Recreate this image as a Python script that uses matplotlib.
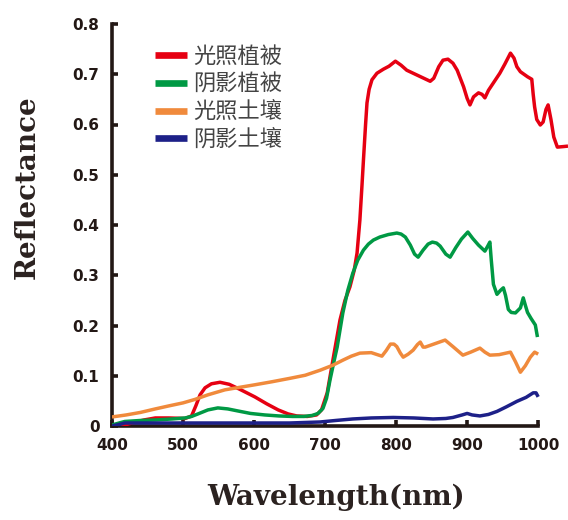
import matplotlib
matplotlib.use("Agg")
import matplotlib.pyplot as plt

# spectra (wavelength nm, reflectance)
lit_veg_wl = [413, 428, 445, 461, 480, 503, 512, 518, 524, 531, 540, 552, 565, 580, 601, 618, 634, 648,
              660, 675, 688, 695, 703, 711, 721, 728, 735, 741, 745, 749, 752, 754, 757, 759, 762, 766,
              773, 782, 790, 799, 807, 815, 830, 842, 848, 853, 860, 866, 873, 880, 886, 895, 900, 904,
              909, 916, 921, 925, 930, 938, 946, 953, 961, 966, 970, 975, 985, 991, 993, 995, 998, 1003,
              1007, 1011, 1014, 1018, 1022, 1027, 1035, 1042]
lit_veg = [0.0, 0.006, 0.012, 0.016, 0.016, 0.015, 0.02, 0.04, 0.062, 0.076, 0.084, 0.087, 0.083, 0.073,
           0.058, 0.044, 0.032, 0.024, 0.02, 0.019, 0.022, 0.032, 0.066, 0.131, 0.211, 0.25, 0.277, 0.31,
           0.344, 0.41, 0.48, 0.529, 0.6, 0.643, 0.67, 0.689, 0.702, 0.71, 0.716, 0.726, 0.718, 0.708,
           0.698, 0.69, 0.686, 0.692, 0.715, 0.728, 0.73, 0.722, 0.708, 0.675, 0.652, 0.639, 0.655, 0.663,
           0.66, 0.653, 0.668, 0.685, 0.702, 0.72, 0.742, 0.732, 0.715, 0.705, 0.695, 0.69, 0.66, 0.635,
           0.61, 0.599, 0.605, 0.63, 0.639, 0.61, 0.575, 0.555, 0.556, 0.557]

shade_veg_wl = [400, 410, 418, 440, 461, 485, 503, 512, 521, 535, 549, 563, 577, 595, 615, 635, 654, 670,
                682, 690, 697, 702, 707, 712, 717, 725, 732, 739, 746, 754, 761, 768, 777, 789, 801, 807,
                813, 820, 826, 831, 838, 845, 851, 857, 862, 870, 876, 884, 892, 901, 908, 916, 925, 929,
                932, 934, 937, 942, 947, 951, 954, 958, 962, 968, 975, 979, 982, 985, 990, 996, 999]
shade_veg = [0.002, 0.006, 0.009, 0.011, 0.012, 0.014, 0.016, 0.019, 0.024, 0.032, 0.036, 0.034, 0.03,
             0.025, 0.022, 0.02, 0.019, 0.019, 0.021, 0.025, 0.035, 0.055, 0.092, 0.125, 0.157, 0.225,
             0.27, 0.304, 0.33, 0.35, 0.362, 0.37, 0.376, 0.381, 0.384, 0.382, 0.376, 0.36, 0.342, 0.336,
             0.35, 0.362, 0.366, 0.364, 0.358, 0.342, 0.336, 0.355, 0.372, 0.386, 0.373, 0.36, 0.348,
             0.358, 0.366, 0.33, 0.282, 0.262, 0.27, 0.275, 0.26, 0.232, 0.226, 0.225, 0.235, 0.255,
             0.24, 0.226, 0.214, 0.201, 0.177]

lit_soil_wl = [400, 420, 440, 461, 480, 500, 517, 535, 559, 580, 601, 625, 651, 672, 693, 711, 725, 737,
               749, 765, 780, 786, 792, 797, 801, 806, 810, 817, 824, 830, 834, 838, 841, 855, 869, 880,
               894, 905, 918, 925, 932, 945, 961, 968, 975, 982, 989, 995, 1000]
lit_soil = [0.018, 0.022, 0.027, 0.034, 0.04, 0.046, 0.053, 0.062, 0.072, 0.077, 0.082, 0.088, 0.095,
            0.101, 0.111, 0.121, 0.131, 0.139, 0.145, 0.146, 0.139, 0.15, 0.163, 0.163, 0.158, 0.145,
            0.137, 0.143, 0.151, 0.162, 0.167, 0.157, 0.157, 0.164, 0.171, 0.158, 0.141, 0.147, 0.155,
            0.147, 0.141, 0.142, 0.147, 0.128, 0.107, 0.12, 0.137, 0.147, 0.143]

shade_soil_wl = [400, 410, 418, 450, 500, 550, 600, 650, 693, 715, 739, 765, 796, 825, 852, 870, 880,
                 893, 900, 907, 918, 930, 942, 955, 970, 983, 993, 997, 1000]
shade_soil = [0.0, 0.003, 0.006, 0.006, 0.006, 0.006, 0.006, 0.006, 0.008, 0.011, 0.014, 0.016, 0.017,
              0.016, 0.014, 0.015, 0.017, 0.022, 0.025, 0.022, 0.02, 0.023, 0.029, 0.038, 0.049, 0.057,
              0.066, 0.066, 0.058]

labels = ["光照植被", "阴影植被", "光照土壤", "阴影土壤"]
colors = ["#e60012", "#009944", "#f08a3c", "#1d2088"]
xticks = [400, 500, 600, 700, 800, 900, 1000]
yticks = [0, 0.1, 0.2, 0.3, 0.4, 0.5, 0.6, 0.7, 0.8]

W, H = 568, 520
fig = plt.figure(figsize=(W / 100, H / 100), dpi=100)
ax = fig.add_axes([112 / W, 94 / H, 456 / W, 402 / H])

series = [(lit_veg_wl, lit_veg), (shade_veg_wl, shade_veg),
          (lit_soil_wl, lit_soil), (shade_soil_wl, shade_soil)]
for (xs, ys), c, lab in zip(series, colors, labels):
    ax.plot(xs, ys, color=c, lw=2.5, label=lab, zorder=3,
            solid_joinstyle="round", solid_capstyle="butt")

ax.set_xlim(400, 1042)
ax.set_ylim(0, 0.8)
ax.set_xticks(xticks)
ax.set_yticks(yticks)
ax.set_yticklabels(["0"] + [f"{v:.1f}" for v in yticks[1:]])

spine_col = "#231815"
for s in ["top", "right"]:
    ax.spines[s].set_visible(False)
for s in ["left", "bottom"]:
    ax.spines[s].set_linewidth(2.6)
    ax.spines[s].set_color(spine_col)
    ax.spines[s].set_capstyle("projecting")
ax.spines["left"].set_bounds(0, 0.8)
ax.spines["bottom"].set_bounds(400, 1000)

ax.tick_params(direction="in", length=4, width=2.6, color=spine_col, pad=9)
for lab in ax.get_xticklabels() + ax.get_yticklabels():
    lab.set_fontfamily("DejaVu Sans")
    lab.set_fontweight("bold")
    lab.set_fontsize(11)
    lab.set_color("#231815")

fig.text(27 / W, 1 - 187 / H, "Reflectance", rotation=90, ha="center", va="center",
         family="DejaVu Serif", fontweight="bold", fontsize=20, color="#2b2220")
fig.text(336 / W, 1 - 497 / H, "Wavelength(nm)", ha="center", va="center",
         family="DejaVu Serif", fontweight="bold", fontsize=20, color="#2b2220")

leg = ax.legend(loc="upper left", bbox_to_anchor=(155 / W, 1 - 45 / H), bbox_transform=fig.transFigure,
                frameon=False, borderpad=0, borderaxespad=0, handlelength=1.44, handletextpad=0.27,
                labelspacing=0.21,
                prop={"family": ["Noto Sans CJK SC", "DejaVu Sans"], "size": 16, "weight": "light"})
for ln in leg.get_lines():
    ln.set_linewidth(4.8)
for t in leg.get_texts():
    t.set_color("#444444")

fig.savefig("out.png", dpi=100)
